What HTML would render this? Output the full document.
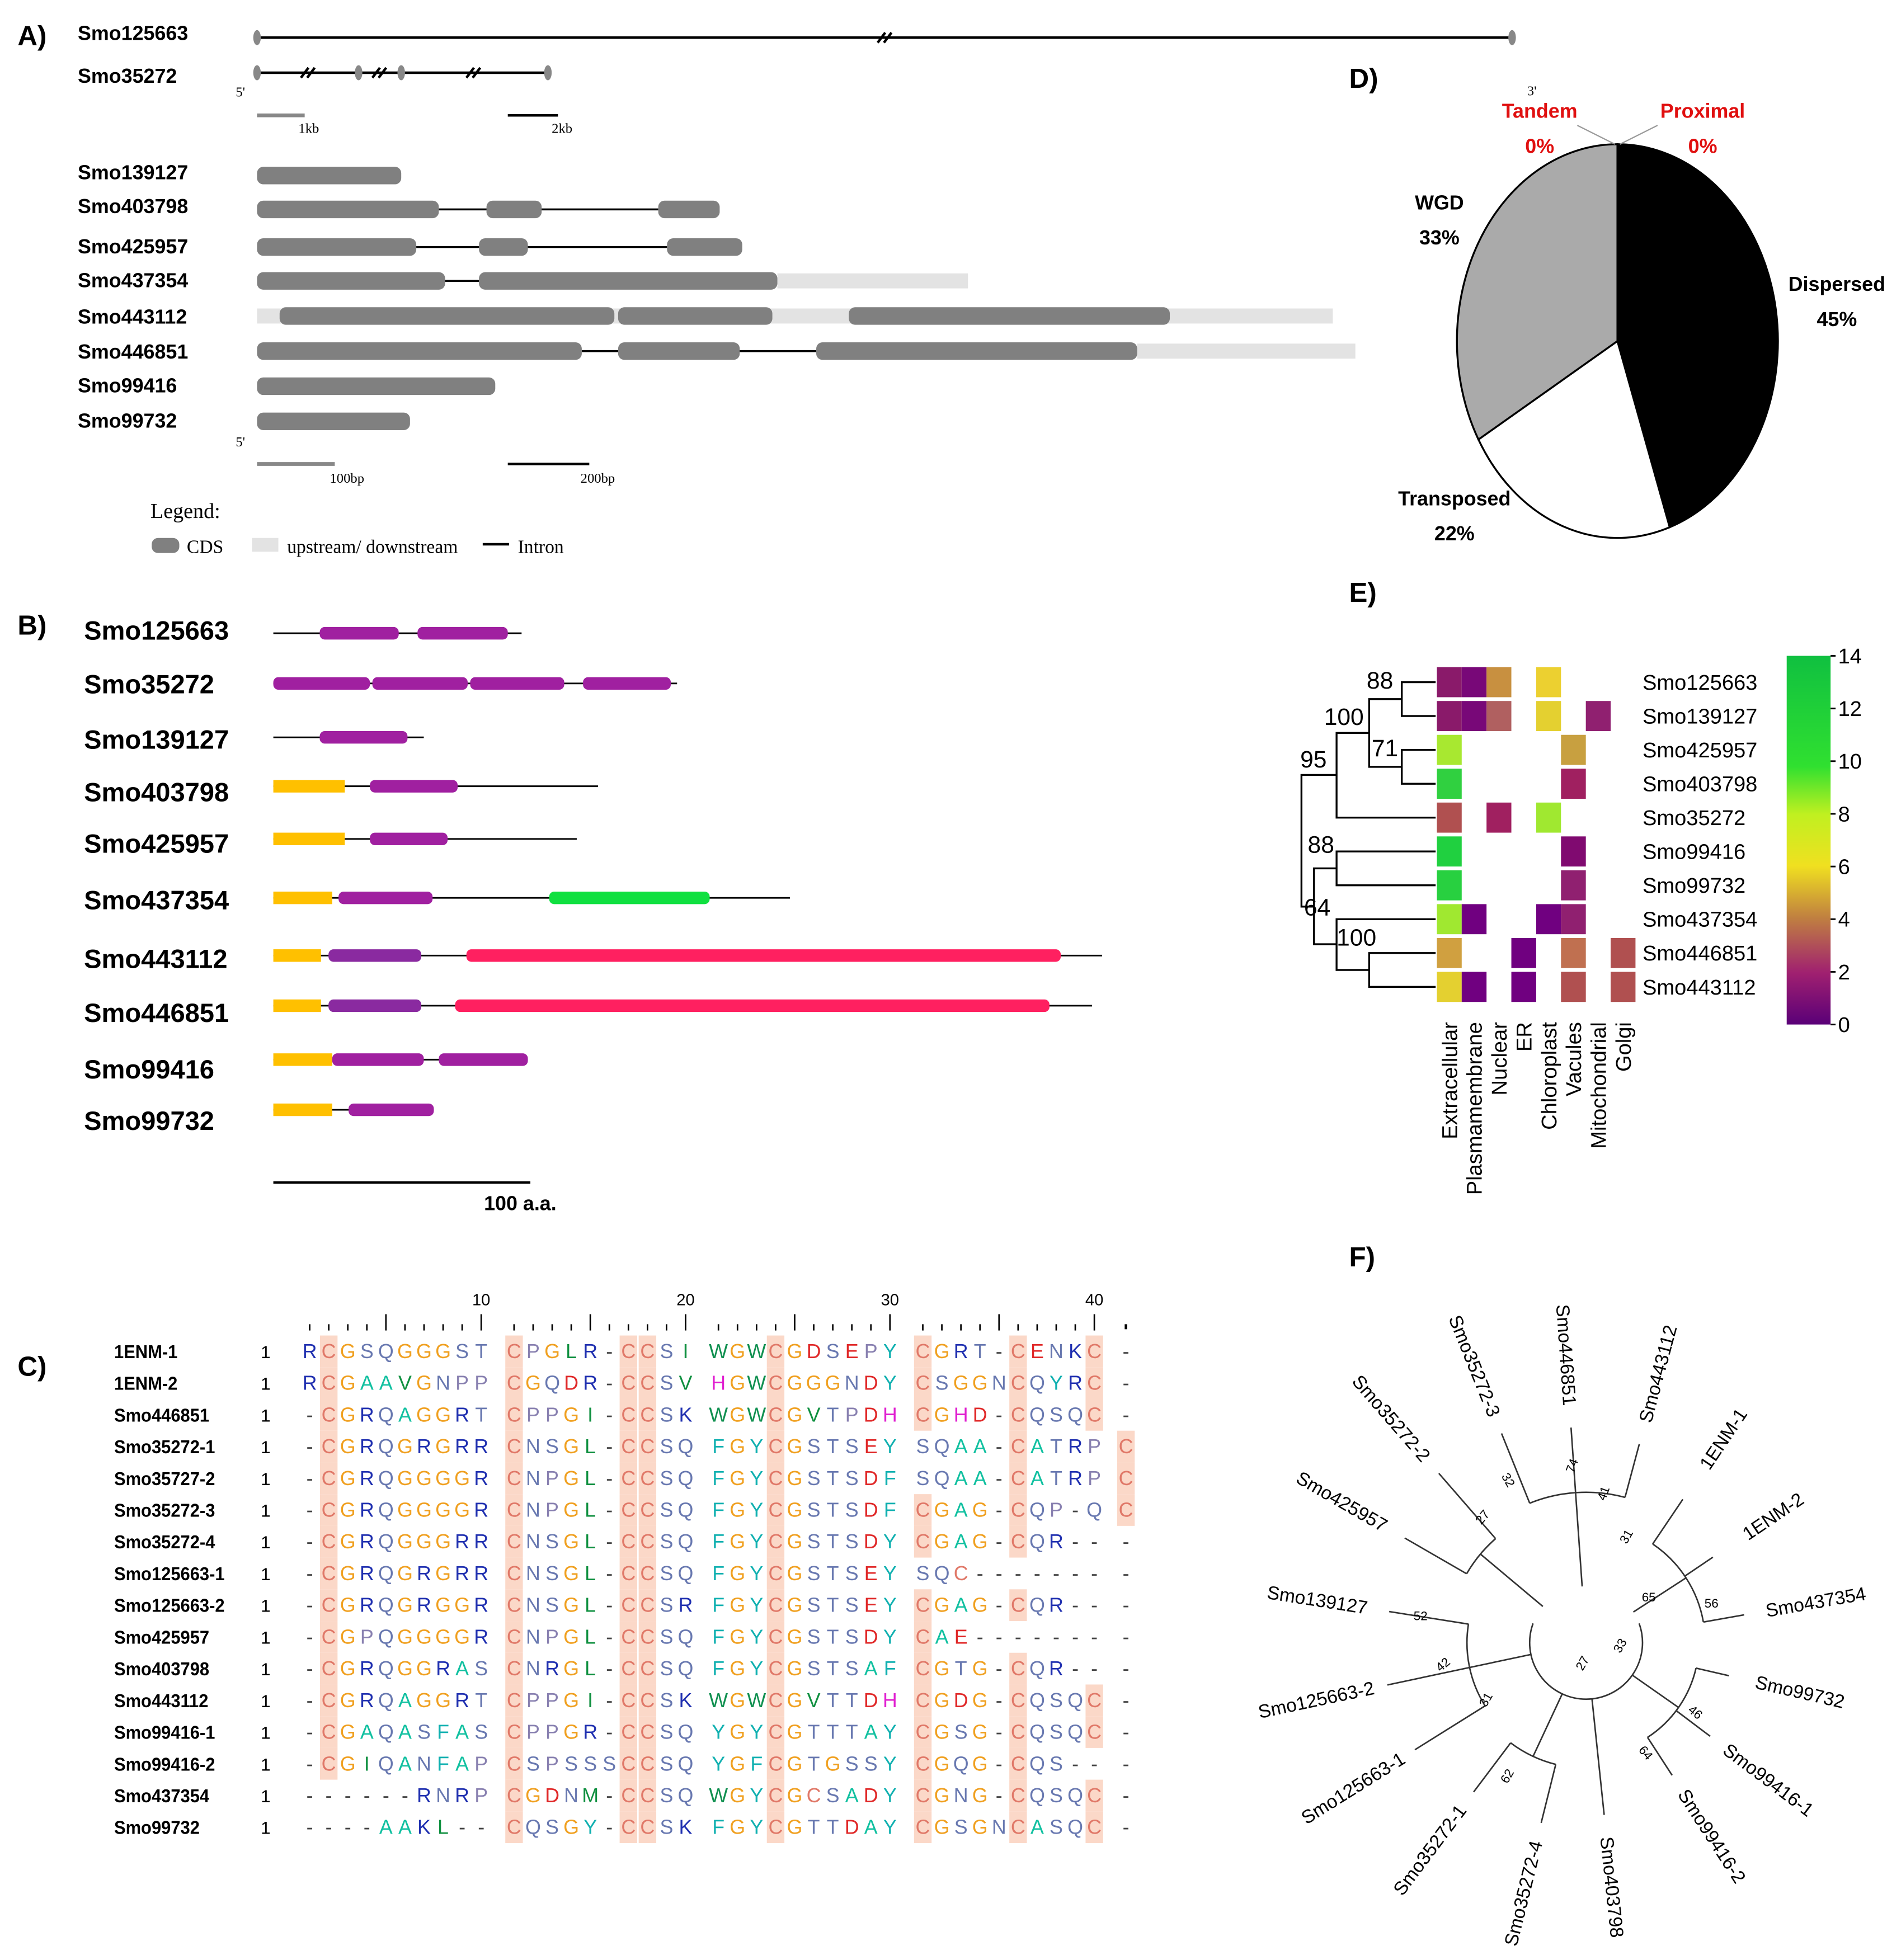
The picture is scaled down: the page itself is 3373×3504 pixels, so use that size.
<!DOCTYPE html>
<html><head><meta charset="utf-8"><style>
html,body{margin:0;padding:0;background:#fff}
svg{display:block}
text{font-family:"Liberation Sans",sans-serif}
.lab{font-size:16px;font-weight:bold}
.b{font-size:21px;font-weight:bold}
.ser text{font-family:"Liberation Serif",serif}
</style></head><body>
<svg id="s" width="3373" height="3504" viewBox="0 0 1505 1563" preserveAspectRatio="none" xmlns="http://www.w3.org/2000/svg">
<rect width="1505" height="1563" fill="#fff"/>
<!-- Panel A -->
<text x="14" y="36" font-size="22" font-weight="bold">A)</text>
<g class="lab">
<text x="62" y="32">Smo125663</text><text x="62" y="66">Smo35272</text>
<text x="62" y="143">Smo139127</text><text x="62" y="170">Smo403798</text>
<text x="62" y="202">Smo425957</text><text x="62" y="229">Smo437354</text>
<text x="62" y="258">Smo443112</text><text x="62" y="286">Smo446851</text>
<text x="62" y="313">Smo99416</text><text x="62" y="341">Smo99732</text>
</g>
<g stroke="#000" stroke-width="2">
<line x1="205" y1="30" x2="1206" y2="30"/>
<line x1="205" y1="58" x2="437" y2="58"/>
<line x1="700" y1="34" x2="706" y2="26"/><line x1="705" y1="34" x2="711" y2="26"/>
<line x1="240" y1="62" x2="246" y2="54"/><line x1="245" y1="62" x2="251" y2="54"/>
<line x1="297" y1="62" x2="303" y2="54"/><line x1="302" y1="62" x2="308" y2="54"/>
<line x1="372" y1="62" x2="378" y2="54"/><line x1="377" y1="62" x2="383" y2="54"/>
</g>
<g fill="#888"><ellipse cx="205" cy="30" rx="3" ry="6"/><ellipse cx="1206" cy="30" rx="3" ry="6"/><ellipse cx="205" cy="58" rx="3" ry="6"/><ellipse cx="437" cy="58" rx="3" ry="6"/><ellipse cx="286" cy="58" rx="3" ry="6"/><ellipse cx="320" cy="58" rx="3" ry="6"/></g>
<g class="ser" font-size="11">
<text x="188" y="77">5'</text><text x="238" y="106">1kb</text><text x="440" y="106">2kb</text><text x="1218" y="76">3'</text>
<text x="188" y="356">5'</text><text x="263" y="385">100bp</text><text x="463" y="385">200bp</text>
</g>
<line x1="205" y1="92" x2="243" y2="92" stroke="#888" stroke-width="3"/>
<line x1="405" y1="92" x2="445" y2="92" stroke="#000" stroke-width="2"/>
<line x1="205" y1="370" x2="267" y2="370" stroke="#888" stroke-width="3"/>
<line x1="405" y1="370" x2="470" y2="370" stroke="#000" stroke-width="2"/>
<g stroke="#000" stroke-width="1.6">
<line x1="350" y1="167" x2="525" y2="167"/><line x1="332" y1="197" x2="532" y2="197"/>
<line x1="355" y1="224" x2="382" y2="224"/><line x1="490" y1="252" x2="677" y2="252"/>
<line x1="464" y1="280" x2="651" y2="280"/>
</g>
<g fill="#e3e3e3"><rect x="620" y="218" width="152" height="12"/><rect x="205" y="246" width="858" height="12"/><rect x="907" y="274" width="174" height="12"/></g>
<g fill="#808080">
<rect x="205" y="133" width="115" height="14" rx="5"/>
<rect x="205" y="160" width="145" height="14" rx="5"/><rect x="388" y="160" width="44" height="14" rx="5"/><rect x="525" y="160" width="49" height="14" rx="5"/>
<rect x="205" y="190" width="127" height="14" rx="5"/><rect x="382" y="190" width="39" height="14" rx="5"/><rect x="532" y="190" width="60" height="14" rx="5"/>
<rect x="205" y="217" width="150" height="14" rx="5"/><rect x="382" y="217" width="238" height="14" rx="5"/>
<rect x="223" y="245" width="267" height="14" rx="5"/><rect x="493" y="245" width="123" height="14" rx="5"/><rect x="677" y="245" width="256" height="14" rx="5"/>
<rect x="205" y="273" width="259" height="14" rx="5"/><rect x="493" y="273" width="97" height="14" rx="5"/><rect x="651" y="273" width="256" height="14" rx="5"/>
<rect x="205" y="301" width="190" height="14" rx="5"/>
<rect x="205" y="329" width="122" height="14" rx="5"/>
<rect x="121" y="429" width="22" height="12" rx="5"/>
</g>
<rect x="201" y="429" width="21" height="11" fill="#e3e3e3"/>
<line x1="385" y1="434" x2="406" y2="434" stroke="#000" stroke-width="2"/>
<g class="ser" font-size="15">
<text x="120" y="413" font-size="17">Legend:</text><text x="149" y="441">CDS</text><text x="229" y="441">upstream/ downstream</text><text x="413" y="441">Intron</text>
</g>
<!-- Panel B -->
<text x="14" y="506" font-size="22" font-weight="bold">B)</text>
<g class="b">
<text x="67" y="510">Smo125663</text><text x="67" y="553">Smo35272</text><text x="67" y="597">Smo139127</text>
<text x="67" y="639">Smo403798</text><text x="67" y="680">Smo425957</text><text x="67" y="725">Smo437354</text>
<text x="67" y="772">Smo443112</text><text x="67" y="815">Smo446851</text><text x="67" y="860">Smo99416</text>
<text x="67" y="901">Smo99732</text>
</g>
<g stroke="#000" stroke-width="1.3">
<line x1="218" y1="505" x2="416" y2="505"/><line x1="218" y1="545" x2="540" y2="545"/>
<line x1="218" y1="588" x2="338" y2="588"/><line x1="218" y1="627" x2="477" y2="627"/>
<line x1="218" y1="669" x2="460" y2="669"/><line x1="218" y1="716" x2="630" y2="716"/>
<line x1="218" y1="762" x2="879" y2="762"/><line x1="218" y1="802" x2="871" y2="802"/>
<line x1="218" y1="845" x2="421" y2="845"/><line x1="218" y1="885" x2="346" y2="885"/>
</g>
<g fill="#a020a0">
<rect x="255" y="500" width="63" height="10" rx="4"/><rect x="333" y="500" width="72" height="10" rx="4"/>
<rect x="218" y="540" width="77" height="10" rx="4"/><rect x="297" y="540" width="76" height="10" rx="4"/><rect x="375" y="540" width="75" height="10" rx="4"/><rect x="465" y="540" width="70" height="10" rx="4"/>
<rect x="255" y="583" width="70" height="10" rx="4"/>
<rect x="295" y="622" width="70" height="10" rx="4"/>
<rect x="295" y="664" width="62" height="10" rx="4"/>
<rect x="270" y="711" width="75" height="10" rx="4"/>
<rect x="262" y="757" width="74" height="10" rx="4" fill="#8a2aa0"/>
<rect x="262" y="797" width="74" height="10" rx="4" fill="#8a2aa0"/>
<rect x="265" y="840" width="73" height="10" rx="4"/><rect x="350" y="840" width="71" height="10" rx="4"/>
<rect x="278" y="880" width="68" height="10" rx="4"/>
</g>
<g fill="#ffc000">
<rect x="218" y="622" width="57" height="10"/><rect x="218" y="664" width="57" height="10"/><rect x="218" y="711" width="47" height="10"/>
<rect x="218" y="757" width="38" height="10"/><rect x="218" y="797" width="38" height="10"/><rect x="218" y="840" width="47" height="10"/><rect x="218" y="880" width="47" height="10"/>
</g>
<rect x="438" y="711" width="128" height="10" rx="4" fill="#10e040"/>
<rect x="372" y="757" width="474" height="10" rx="4" fill="#ff2060"/>
<rect x="363" y="797" width="474" height="10" rx="4" fill="#ff2060"/>
<line x1="218" y1="943" x2="423" y2="943" stroke="#000" stroke-width="2"/>
<text x="386" y="965" font-size="16" font-weight="bold">100 a.a.</text>
<!-- Panel C -->
<text x="14" y="1097" font-size="22" font-weight="bold">C)</text>
<g id="aln"></g>
<!-- Panel D -->
<text x="1076" y="70" font-size="22" font-weight="bold">D)</text>
<g id="pie"></g>
<g font-size="16" font-weight="bold">
<text x="1228" y="94" fill="#e01010" text-anchor="middle">Tandem</text><text x="1228" y="122" fill="#e01010" text-anchor="middle">0%</text>
<text x="1358" y="94" fill="#e01010" text-anchor="middle">Proximal</text><text x="1358" y="122" fill="#e01010" text-anchor="middle">0%</text>
<text x="1148" y="167" text-anchor="middle">WGD</text><text x="1148" y="195" text-anchor="middle">33%</text>
<text x="1465" y="232" text-anchor="middle">Dispersed</text><text x="1465" y="260" text-anchor="middle">45%</text>
<text x="1160" y="403" text-anchor="middle">Transposed</text><text x="1160" y="431" text-anchor="middle">22%</text>
</g>
<g stroke="#999" stroke-width="1"><line x1="1258" y1="100" x2="1288" y2="115"/><line x1="1322" y1="100" x2="1292" y2="115"/></g>
<!-- Panel E -->
<text x="1076" y="480" font-size="22" font-weight="bold">E)</text>
<g id="heat"></g>
<defs><linearGradient id="cb" x1="0" y1="0" x2="0" y2="1">
<stop offset="0" stop-color="#10c040"/><stop offset="0.3" stop-color="#30e030"/><stop offset="0.43" stop-color="#c0f020"/><stop offset="0.57" stop-color="#f0e020"/><stop offset="0.71" stop-color="#c08040"/><stop offset="0.86" stop-color="#a02070"/><stop offset="1" stop-color="#5a0078"/></linearGradient></defs>
<rect x="1425" y="523" width="35" height="294" fill="url(#cb)"/>
<g font-size="17">
<text x="1466" y="529">14</text><text x="1466" y="571">12</text><text x="1466" y="613">10</text><text x="1466" y="655">8</text><text x="1466" y="697">6</text><text x="1466" y="739">4</text><text x="1466" y="781">2</text><text x="1466" y="823">0</text>
</g>
<g stroke="#000" stroke-width="1.3"><line x1="1460" y1="523" x2="1464" y2="523"/><line x1="1460" y1="565" x2="1464" y2="565"/><line x1="1460" y1="607" x2="1464" y2="607"/><line x1="1460" y1="649" x2="1464" y2="649"/><line x1="1460" y1="691" x2="1464" y2="691"/><line x1="1460" y1="733" x2="1464" y2="733"/><line x1="1460" y1="775" x2="1464" y2="775"/><line x1="1460" y1="817" x2="1464" y2="817"/></g>
<path fill="none" stroke="#000" stroke-width="1.5" d="M1145 544H1118V571H1145 M1145 598H1118V625H1145 M1118 557.5H1092V611.5H1118 M1092 584.5H1066V652H1145 M1145 679H1066V706H1145 M1145 760H1092V787H1145 M1145 733H1066V773.5H1092 M1066 692.5H1048V753H1066 M1066 618H1038V723H1048"/>
<g font-size="19">
<text x="1090" y="549">88</text><text x="1056" y="578">100</text><text x="1094" y="603">71</text><text x="1037" y="612">95</text>
<text x="1043" y="680">88</text><text x="1040" y="730">64</text><text x="1066" y="754">100</text>
</g>
<!-- Panel F -->
<text x="1076" y="1010" font-size="22" font-weight="bold">F)</text>
<g id="tree"></g>
</svg>
<script>
var NS="http://www.w3.org/2000/svg";
function el(p,t,a,txt){var e=document.createElementNS(NS,t);for(var k in a)e.setAttribute(k,a[k]);if(txt!=null)e.textContent=txt;p.appendChild(e);return e;}
var rows=[["1ENM-1","RCGSQGGGSTCPGLR-CCSIWGWCGDSEPYCGRT-CENKC-"],
["1ENM-2","RCGAAVGNPPCGQDR-CCSVHGWCGGGNDYCSGGNCQYRC-"],
["Smo446851","-CGRQAGGRTCPPGI-CCSKWGWCGVTPDHCGHD-CQSQC-"],
["Smo35272-1","-CGRQGRGRRCNSGL-CCSQFGYCGSTSEYSQAA-CATRPC"],
["Smo35727-2","-CGRQGGGGRCNPGL-CCSQFGYCGSTSDFSQAA-CATRPC"],
["Smo35272-3","-CGRQGGGGRCNPGL-CCSQFGYCGSTSDFCGAG-CQP-QC"],
["Smo35272-4","-CGRQGGGRRCNSGL-CCSQFGYCGSTSDYCGAG-CQR---"],
["Smo125663-1","-CGRQGRGRRCNSGL-CCSQFGYCGSTSEYSQC--------"],
["Smo125663-2","-CGRQGRGGRCNSGL-CCSRFGYCGSTSEYCGAG-CQR---"],
["Smo425957","-CGPQGGGGRCNPGL-CCSQFGYCGSTSDYCAE--------"],
["Smo403798","-CGRQGGRASCNRGL-CCSQFGYCGSTSAFCGTG-CQR---"],
["Smo443112","-CGRQAGGRTCPPGI-CCSKWGWCGVTTDHCGDG-CQSQC-"],
["Smo99416-1","-CGAQASFASCPPGR-CCSQYGYCGTTTAYCGSG-CQSQC-"],
["Smo99416-2","-CGIQANFAPCSPSSSCCSQYGFCGTGSSYCGQG-CQS---"],
["Smo437354","------RNRPCGDNM-CCSQWGYCGCSADYCGNG-CQSQC-"],
["Smo99732","----AAKL--CQSGY-CCSKFGYCGTTDAYCGSGNCASQC-"]];
var col={C:"#e07868",G:"#f0a020",R:"#2030b0",K:"#2030b0",Q:"#6878b0",S:"#6878b0",T:"#6878b0",N:"#6878b0",P:"#8880b0",A:"#10c0a0",V:"#109040",L:"#109040",I:"#109040",M:"#109040",W:"#109050",D:"#e02828",E:"#e02828",H:"#e020d0",Y:"#10b0b0",F:"#10b0b0","-":"#444"};
var hl={1:1,10:1,16:1,17:1,23:1,30:1,35:1,39:1,40:1};
var g=document.getElementById("aln");
function cx(i){return i==40?898:247+Math.floor(i/10)*163+(i%10)*15.2;}
for(var i=0;i<41;i++){var x=cx(i);var n=i+1;
 if(i<40){var h=(n%5==0)?13:5;el(g,"line",{x1:x,y1:1061-h,x2:x,y2:1061,stroke:"#000","stroke-width":1.2});
 if(n%10==0)el(g,"text",{x:x,y:1041,"font-size":13,"text-anchor":"middle"},String(n));}
 else el(g,"rect",{x:x-1,y:1056,width:2,height:4,fill:"#000"});}
rows.forEach(function(r,ri){var y=1077+ri*25.3;
 el(g,"text",{x:91,y:y+6,"font-size":15,"font-weight":"bold",transform:"translate(91 0) scale(0.92 1) translate(-91 0)"},r[0]);
 el(g,"text",{x:208,y:y+6,"font-size":14},"1");
 for(var i=0;i<41;i++){var c=r[1][i];var x=cx(i);
  if(c=="C"&&hl[i])el(g,"rect",{x:x-7,y:y-12,width:14,height:25.3,fill:"#fbd8c8"});
  el(g,"text",{x:x,y:y+6,"font-size":16,"text-anchor":"middle",fill:col[c]||"#333"},c);}
});
var p=document.getElementById("pie");var cX=1290,cY=272,rx=128,ry=157;
function pt(a){var t=a*Math.PI/180;return [cX+rx*Math.sin(t),cY-ry*Math.cos(t)];}
function sl(a0,a1,f){var s=pt(a0),e=pt(a1);el(p,"path",{d:"M"+cX+" "+cY+"L"+s[0]+" "+s[1]+"A"+rx+" "+ry+" 0 "+((a1-a0)>180?1:0)+" 1 "+e[0]+" "+e[1]+"Z",fill:f,stroke:"#000","stroke-width":1.5});}
sl(0,161,"#000");sl(161,240,"#fff");sl(240,360,"#aaa");
var hc=document.getElementById("heat");
var names=["Smo125663","Smo139127","Smo425957","Smo403798","Smo35272","Smo99416","Smo99732","Smo437354","Smo446851","Smo443112"];
var cells=[{0:"#8a1a6a",1:"#780878",2:"#c89040",4:"#ecd030"},{0:"#8a1a6a",1:"#780878",2:"#b06060",4:"#e4d030",6:"#902070"},{0:"#a8e830",5:"#c8a040"},{0:"#30d040",5:"#a02060"},{0:"#b05050",2:"#a02060",4:"#a0e830"},{0:"#20d040",5:"#800a70"},{0:"#28d040",5:"#902070"},{0:"#a0e830",1:"#700080",4:"#700080",5:"#902070"},{0:"#d0a040",3:"#700080",5:"#c07050",7:"#b05050"},{0:"#e4d030",1:"#700080",3:"#700080",5:"#b05050",7:"#b05050"}];
names.forEach(function(n,i){var y=544+i*27;
 for(var k in cells[i])el(hc,"rect",{x:1146+k*19.8,y:y-12,width:19.8,height:24,fill:cells[i][k]});
 el(hc,"text",{x:1310,y:y+6,"font-size":17},n);});
["Extracellular","Plasmamembrane","Nuclear","ER","Chloroplast","Vacules","Mitochondrial","Golgi"].forEach(function(n,k){var x=1162+k*19.8;
 el(hc,"text",{x:x,y:815,"font-size":17,"text-anchor":"end",transform:"rotate(-90 "+x+" 815)"},n);});
var t=document.getElementById("tree");var tx=1265,ty=1310;
var lv=[["Smo35272-3",-112,238],["Smo446851",-94,230],["Smo443112",-75,222],["1ENM-1",-56,196],["1ENM-2",-34,180],["Smo437354",-10,186],["Smo99732",13,175],["Smo99416-1",37,182],["Smo99416-2",57,184],["Smo403798",84,196],["Smo35272-4",104,206],["Smo35272-1",127,207],["Smo125663-1",148,219],["Smo125663-2",168,220],["Smo139127",189,217],["Smo425957",210,225],["Smo35272-2",229,237]];
function P(a,r){var q=a*Math.PI/180;return [tx+r*Math.cos(q),ty+r*Math.sin(q)];}
function arc(a0,a1,r){var s=P(a0,r),e=P(a1,r);el(t,"path",{d:"M"+s[0]+" "+s[1]+"A"+r+" "+r+" 0 "+((a1-a0)>180?1:0)+" 1 "+e[0]+" "+e[1],fill:"none",stroke:"#333","stroke-width":1.2});}
function rad(a,r0,r1){var s=P(a,r0),e=P(a,r1);el(t,"line",{x1:s[0],y1:s[1],x2:e[0],y2:e[1],stroke:"#333","stroke-width":1.2});}
arc(-20,200,45);
arc(-112,-75,120);rad(-94,45,120);arc(-56,-10,95);rad(-33,45,95);arc(13,57,90);rad(35,45,90);
arc(104,127,100);rad(115,45,100);arc(148,189,95);rad(168,45,95);arc(210,229,110);rad(220,45,110);
lv.forEach(function(l){var a=l[1],r=l[2];var rs=(a<-60&&a>-115)?120:(a<=-10&&a>=-60)?95:(a>10&&a<60)?90:(a>100&&a<130)?100:(a>145&&a<190)?95:(a>205)?110:45;
 rad(a,rs,r-58);
 var q=P(a,r);var rot=Math.cos(a*Math.PI/180)>=0?a:a+180;
 el(t,"text",{x:q[0],y:q[1]+5,"font-size":15,"text-anchor":"middle",transform:"rotate("+rot+" "+q[0]+" "+q[1]+")"},l[0]);});
[["32",1200,1182,60],["27",1185,1212,-50],["74",1257,1170,-70],["41",1282,1192,-70],["31",1300,1227,-60],["65",1315,1277,0],["56",1365,1282,0],["46",1350,1368,40],["64",1310,1400,50],["52",1133,1292,0],["42",1153,1330,-40],["31",1188,1357,-60],["62",1205,1418,-60],["27",1265,1328,-60],["33",1295,1314,-60]].forEach(function(b){
 el(t,"text",{x:b[1],y:b[2],"font-size":10,"text-anchor":"middle",transform:"rotate("+b[3]+" "+b[1]+" "+b[2]+")"},b[0]);});
</script>
</body></html>
